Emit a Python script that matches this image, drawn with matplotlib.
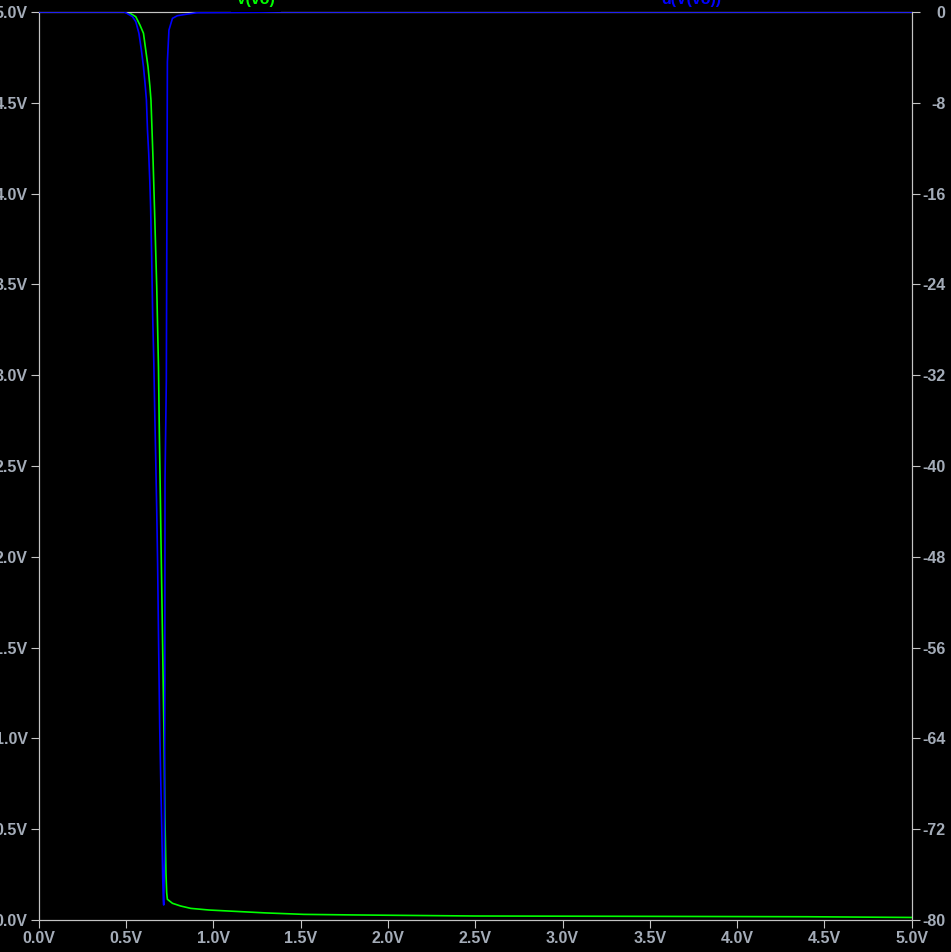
import numpy as np
import matplotlib
matplotlib.use("Agg")
import matplotlib.pyplot as plt
from matplotlib.ticker import FixedLocator

# V(vo) trace (input volts, output volts)
vin_vo = [0.0, 0.30, 0.49, 0.52, 0.556, 0.580, 0.600, 0.613, 0.626, 0.637,
          0.643, 0.655, 0.664, 0.676, 0.686, 0.691, 0.697, 0.700, 0.706,
          0.712, 0.718, 0.723, 0.729, 0.733, 0.737, 0.766, 0.813, 0.871,
          0.975, 1.157, 1.300, 1.518, 1.787, 2.5, 3.5, 4.4, 5.0]
vo = [5.0, 5.0, 5.0, 4.995, 4.974, 4.928, 4.883, 4.791, 4.699, 4.589,
      4.515, 4.185, 3.893, 3.486, 3.045, 2.682, 2.313, 2.109, 1.746,
      1.369, 0.991, 0.567, 0.258, 0.150, 0.114, 0.092, 0.077, 0.064,
      0.055, 0.046, 0.039, 0.031, 0.028, 0.022, 0.020, 0.018, 0.014]

# d(V(vo)) trace, right axis
vin_d = [0.0, 0.49, 0.504, 0.537, 0.556, 0.574, 0.588, 0.600, 0.609, 0.617,
         0.623, 0.630, 0.636, 0.641, 0.647, 0.653, 0.659, 0.664, 0.670,
         0.676, 0.681, 0.687, 0.693, 0.699, 0.705, 0.710, 0.714, 0.716,
         0.720, 0.7225, 0.7235, 0.731, 0.736, 0.737, 0.746, 0.766, 0.794,
         0.852, 0.909, 1.157, 1.37, 5.0]
dvo = [0.0, 0.0, -0.11, -0.41, -0.85, -1.87, -3.35, -4.82, -6.28, -7.75,
       -10.40, -12.42, -14.80, -17.18, -21.59, -26.87, -30.66, -34.80, -39.21,
       -43.88, -48.55, -55.95, -62.99, -67.66, -72.07, -76.21, -78.24, -78.68,
       -74.7, -58.85, -41.2, -32.42, -9.52, -4.41, -1.59, -0.56, -0.33,
       -0.18, -0.06, -0.03, 0.0, 0.0]

x_ticks = [i * 0.5 for i in range(11)]
x_labels = [f"{t:.1f}V" for t in x_ticks]
left_ticks = [i * 0.5 for i in range(11)]
left_labels = [f"{t:.1f}V" for t in left_ticks]
right_ticks = list(range(-80, 1, 8))
right_labels = [str(t) for t in right_ticks]

W, H = 951, 952
tick_col = '#a4acb8'
spine_col = '#c4c4c4'
font = 'Liberation Sans'

fig = plt.figure(figsize=(W / 100, H / 100), dpi=100, facecolor='black')
ax = fig.add_axes([38.7 / W, (H - 920) / H, (911.7 - 38.7) / W, (920 - 12) / H])
ax.set_facecolor('black')
ax2 = ax.twinx()

ax.plot(vin_vo, vo, color='#00ff00', lw=1.2, zorder=4)
ax2.plot(vin_d, dvo, color='#0000ff', lw=1.2, zorder=3)

ax.set_xlim(0, 5)
ax.set_ylim(0, 5)
ax2.set_ylim(-80, 0)

ax.xaxis.set_major_locator(FixedLocator(x_ticks))
ax.set_xticklabels(x_labels)
ax.yaxis.set_major_locator(FixedLocator(left_ticks))
ax.set_yticklabels(left_labels)
ax2.yaxis.set_major_locator(FixedLocator(right_ticks))
ax2.set_yticklabels(right_labels, ha='right')

for a in (ax, ax2):
    for s in a.spines.values():
        s.set_color(spine_col)
        s.set_linewidth(0.8)
ax.tick_params(axis='both', colors=spine_col, length=5.8, width=0.8, pad=2.2,
               labelcolor=tick_col, labelsize=11.5)
ax2.tick_params(axis='y', colors=spine_col, length=5.8, width=0.8, pad=18.5,
                labelcolor=tick_col, labelsize=11.5)
for lab in ax.get_xticklabels() + ax.get_yticklabels() + ax2.get_yticklabels():
    lab.set_fontfamily(font)
    lab.set_fontweight('bold')

# trace names at the top, partly cut by the window edge
fig.text(256 / W, (H - 7) / H, 'V(vo)', color='#00ff00', ha='center', va='bottom',
         fontsize=11.5, fontweight='bold', family=font,
         bbox=dict(facecolor='black', edgecolor='none', pad=3.5), zorder=5)
fig.text(691 / W, (H - 7) / H, 'd(V(vo))', color='#0000ff', ha='center', va='bottom',
         fontsize=11.5, fontweight='bold', family=font)

fig.savefig('out.png', dpi=100, facecolor='black')
